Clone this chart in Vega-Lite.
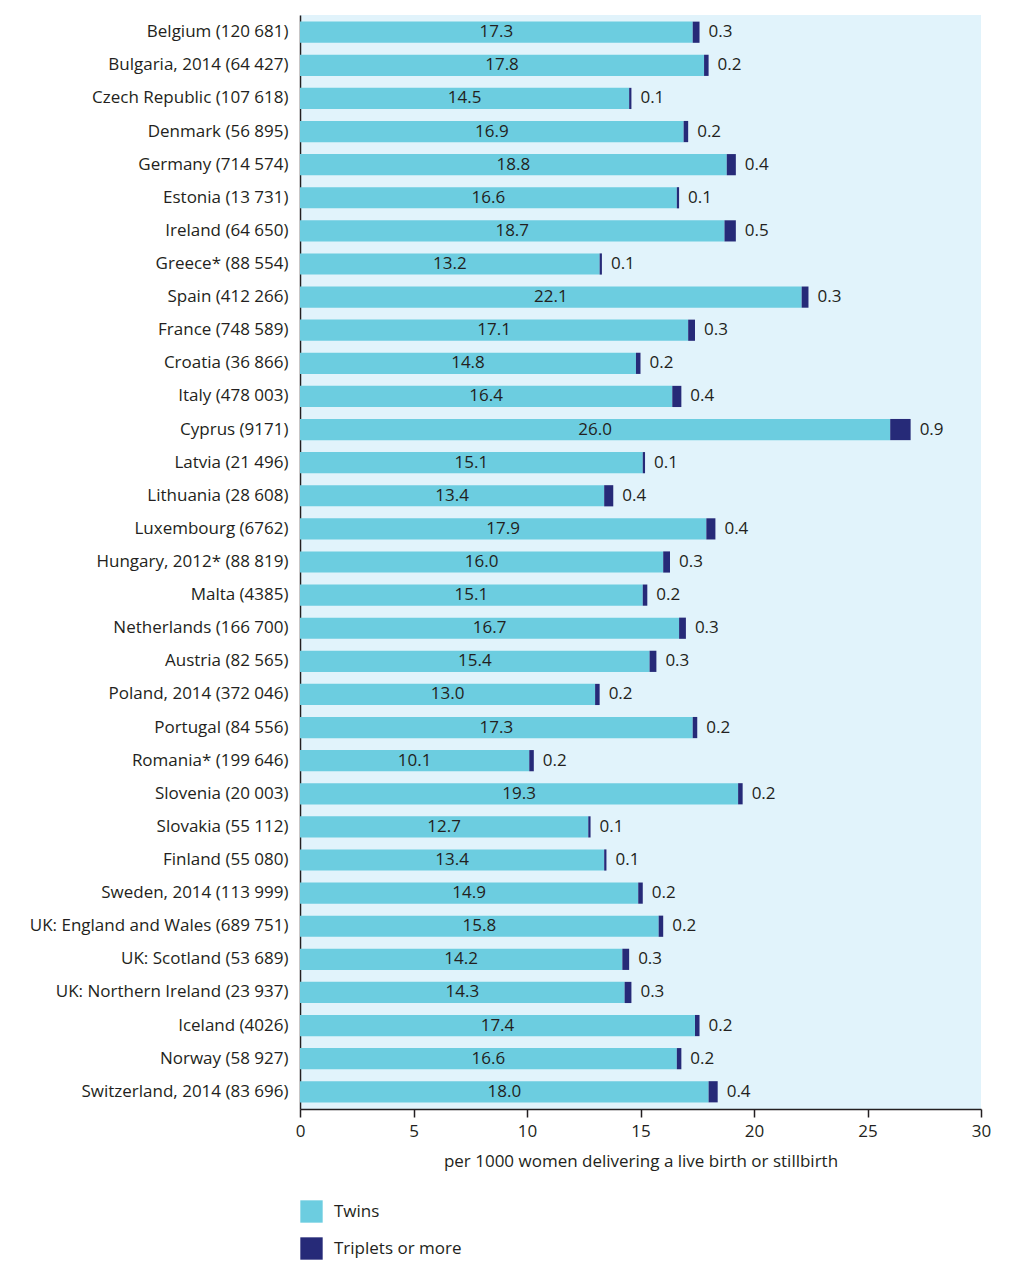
{
  "$schema": "https://vega.github.io/schema/vega-lite/v6.json",
  "autosize": "none",
  "width": 681,
  "height": 1094,
  "padding": {"left": 300, "top": 15, "right": 43, "bottom": 168},
  "background": "white",
  "config": {
    "font": "Open Sans",
    "view": {"fill": "#e1f3fb", "stroke": null},
    "axis": {"labelFont": "Open Sans", "titleFont": "Open Sans", "labelColor": "#231f20", "titleColor": "#231f20"}
  },
  "data": {
    "values": [
      {"country": "Belgium (120 681)", "type": "Twins", "value": 17.3},
      {"country": "Belgium (120 681)", "type": "Triplets or more", "value": 0.3},
      {"country": "Bulgaria, 2014 (64 427)", "type": "Twins", "value": 17.8},
      {"country": "Bulgaria, 2014 (64 427)", "type": "Triplets or more", "value": 0.2},
      {"country": "Czech Republic (107 618)", "type": "Twins", "value": 14.5},
      {"country": "Czech Republic (107 618)", "type": "Triplets or more", "value": 0.1},
      {"country": "Denmark (56 895)", "type": "Twins", "value": 16.9},
      {"country": "Denmark (56 895)", "type": "Triplets or more", "value": 0.2},
      {"country": "Germany (714 574)", "type": "Twins", "value": 18.8},
      {"country": "Germany (714 574)", "type": "Triplets or more", "value": 0.4},
      {"country": "Estonia (13 731)", "type": "Twins", "value": 16.6},
      {"country": "Estonia (13 731)", "type": "Triplets or more", "value": 0.1},
      {"country": "Ireland (64 650)", "type": "Twins", "value": 18.7},
      {"country": "Ireland (64 650)", "type": "Triplets or more", "value": 0.5},
      {"country": "Greece* (88 554)", "type": "Twins", "value": 13.2},
      {"country": "Greece* (88 554)", "type": "Triplets or more", "value": 0.1},
      {"country": "Spain (412 266)", "type": "Twins", "value": 22.1},
      {"country": "Spain (412 266)", "type": "Triplets or more", "value": 0.3},
      {"country": "France  (748 589)", "type": "Twins", "value": 17.1},
      {"country": "France  (748 589)", "type": "Triplets or more", "value": 0.3},
      {"country": "Croatia (36 866)", "type": "Twins", "value": 14.8},
      {"country": "Croatia (36 866)", "type": "Triplets or more", "value": 0.2},
      {"country": "Italy (478 003)", "type": "Twins", "value": 16.4},
      {"country": "Italy (478 003)", "type": "Triplets or more", "value": 0.4},
      {"country": "Cyprus (9171)", "type": "Twins", "value": 26.0},
      {"country": "Cyprus (9171)", "type": "Triplets or more", "value": 0.9},
      {"country": "Latvia (21 496)", "type": "Twins", "value": 15.1},
      {"country": "Latvia (21 496)", "type": "Triplets or more", "value": 0.1},
      {"country": "Lithuania (28 608)", "type": "Twins", "value": 13.4},
      {"country": "Lithuania (28 608)", "type": "Triplets or more", "value": 0.4},
      {"country": "Luxembourg (6762)", "type": "Twins", "value": 17.9},
      {"country": "Luxembourg (6762)", "type": "Triplets or more", "value": 0.4},
      {"country": "Hungary, 2012* (88 819)", "type": "Twins", "value": 16.0},
      {"country": "Hungary, 2012* (88 819)", "type": "Triplets or more", "value": 0.3},
      {"country": "Malta (4385)", "type": "Twins", "value": 15.1},
      {"country": "Malta (4385)", "type": "Triplets or more", "value": 0.2},
      {"country": "Netherlands (166 700)", "type": "Twins", "value": 16.7},
      {"country": "Netherlands (166 700)", "type": "Triplets or more", "value": 0.3},
      {"country": "Austria (82 565)", "type": "Twins", "value": 15.4},
      {"country": "Austria (82 565)", "type": "Triplets or more", "value": 0.3},
      {"country": "Poland, 2014 (372 046)", "type": "Twins", "value": 13.0},
      {"country": "Poland, 2014 (372 046)", "type": "Triplets or more", "value": 0.2},
      {"country": "Portugal (84 556)", "type": "Twins", "value": 17.3},
      {"country": "Portugal (84 556)", "type": "Triplets or more", "value": 0.2},
      {"country": "Romania* (199 646)", "type": "Twins", "value": 10.1},
      {"country": "Romania* (199 646)", "type": "Triplets or more", "value": 0.2},
      {"country": "Slovenia (20 003)", "type": "Twins", "value": 19.3},
      {"country": "Slovenia (20 003)", "type": "Triplets or more", "value": 0.2},
      {"country": "Slovakia (55 112)", "type": "Twins", "value": 12.7},
      {"country": "Slovakia (55 112)", "type": "Triplets or more", "value": 0.1},
      {"country": "Finland (55 080)", "type": "Twins", "value": 13.4},
      {"country": "Finland (55 080)", "type": "Triplets or more", "value": 0.1},
      {"country": "Sweden, 2014 (113 999)", "type": "Twins", "value": 14.9},
      {"country": "Sweden, 2014 (113 999)", "type": "Triplets or more", "value": 0.2},
      {"country": "UK: England and Wales (689 751)", "type": "Twins", "value": 15.8},
      {"country": "UK: England and Wales (689 751)", "type": "Triplets or more", "value": 0.2},
      {"country": "UK: Scotland (53 689)", "type": "Twins", "value": 14.2},
      {"country": "UK: Scotland (53 689)", "type": "Triplets or more", "value": 0.3},
      {"country": "UK: Northern Ireland (23 937)", "type": "Twins", "value": 14.3},
      {"country": "UK: Northern Ireland (23 937)", "type": "Triplets or more", "value": 0.3},
      {"country": "Iceland (4026)", "type": "Twins", "value": 17.4},
      {"country": "Iceland (4026)", "type": "Triplets or more", "value": 0.2},
      {"country": "Norway (58 927)", "type": "Twins", "value": 16.6},
      {"country": "Norway (58 927)", "type": "Triplets or more", "value": 0.2},
      {"country": "Switzerland, 2014 (83 696)", "type": "Twins", "value": 18.0},
      {"country": "Switzerland, 2014 (83 696)", "type": "Triplets or more", "value": 0.4}
    ]
  },
  "transform": [
    {"stack": "value", "groupby": ["country"], "sort": [{"field": "type", "order": "descending"}], "as": ["v0", "v1"]},
    {"calculate": "(datum.v0 + datum.v1) / 2", "as": "mid"}
  ],
  "encoding": {
    "y": {
      "field": "country",
      "type": "nominal",
      "sort": null,
      "scale": {"paddingInner": 0.36, "paddingOuter": 0.2},
      "axis": {
        "title": null,
        "ticks": false,
        "domainColor": "#231f20",
        "domainWidth": 1.5,
        "labelFontSize": 17,
        "labelPadding": 12,
        "labelLimit": 400
      }
    }
  },
  "layer": [
    {
      "mark": {"type": "bar"},
      "encoding": {
        "x": {
          "field": "v0",
          "type": "quantitative",
          "scale": {"domain": [0, 30], "nice": false},
          "axis": {
            "title": "per 1000 women delivering a live birth or stillbirth",
            "titleFontSize": 17,
            "titleFontWeight": "normal",
            "titlePadding": 14,
            "labelFontSize": 17,
            "labelPadding": 6,
            "values": [0, 5, 10, 15, 20, 25, 30],
            "grid": false,
            "domainColor": "#231f20",
            "domainWidth": 1.5,
            "tickColor": "#231f20",
            "tickSize": 8,
            "tickWidth": 1.5,
            "labelFlush": false
          }
        },
        "x2": {"field": "v1"},
        "color": {
          "field": "type",
          "type": "nominal",
          "scale": {"domain": ["Twins", "Triplets or more"], "range": ["#6ccde0", "#262a78"]},
          "legend": {
            "title": null,
            "orient": "none",
            "legendX": 0,
            "legendY": 1185,
            "symbolType": "square",
            "symbolSize": 500,
            "symbolStrokeWidth": 0,
            "symbolOpacity": 1,
            "labelFontSize": 17,
            "labelColor": "#231f20",
            "labelFont": "Open Sans",
            "labelOffset": 11,
            "rowPadding": 14,
            "padding": 0
          }
        }
      }
    },
    {
      "transform": [{"filter": "datum.type === 'Twins'"}],
      "mark": {"type": "text", "fontSize": 17, "color": "#231f20", "align": "center", "baseline": "middle"},
      "encoding": {
        "x": {"field": "mid", "type": "quantitative"},
        "text": {"field": "value", "type": "quantitative", "format": ".1f"}
      }
    },
    {
      "transform": [{"filter": "datum.type === 'Triplets or more'"}],
      "mark": {"type": "text", "fontSize": 17, "color": "#231f20", "align": "left", "baseline": "middle", "dx": 9},
      "encoding": {
        "x": {"field": "v1", "type": "quantitative"},
        "text": {"field": "value", "type": "quantitative", "format": ".1f"}
      }
    }
  ]
}
